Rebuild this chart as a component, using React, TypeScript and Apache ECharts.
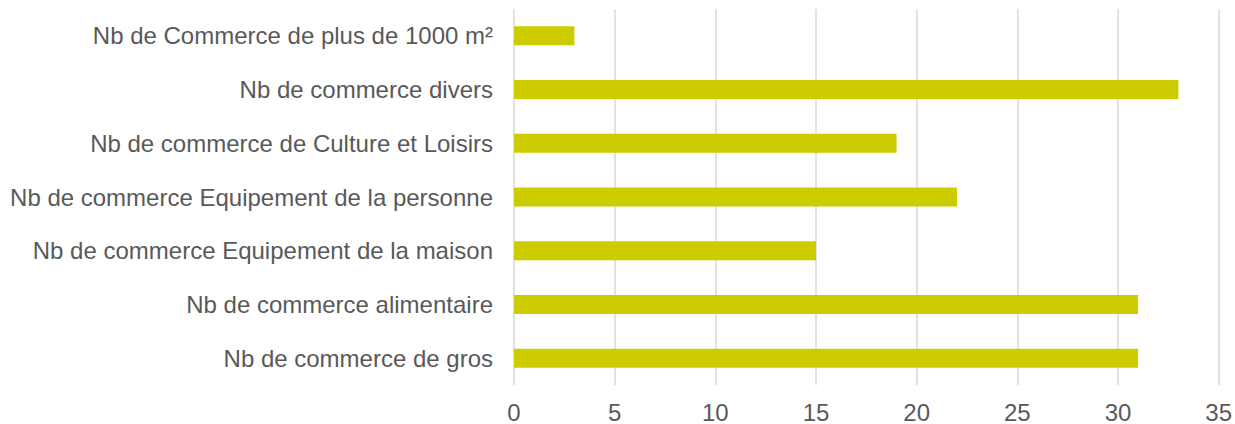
import React, { useEffect, useRef } from "react";
import * as echarts from "echarts";

const categories = [
  "Nb de Commerce de plus de 1000 m²",
  "Nb de commerce divers",
  "Nb de commerce de Culture et Loisirs",
  "Nb de commerce Equipement de la personne",
  "Nb de commerce Equipement de la maison",
  "Nb de commerce alimentaire",
  "Nb de commerce de gros",
];
const values = [3, 33, 19, 22, 15, 31, 31];
const xMin = 0;
const xMax = 35;
const xInterval = 5;

export default function App() {
  const ref = useRef<HTMLDivElement>(null);
  useEffect(() => {
    document.body.style.margin = "0";
    const chart = echarts.init(ref.current!, null, { renderer: "svg" });
    chart.setOption({
      animation: false,
      textStyle: { fontFamily: "Liberation Sans, Arial, sans-serif" },
      grid: { left: 514, right: 14, top: 9, bottom: 39, containLabel: false },
      xAxis: {
        type: "value",
        min: xMin,
        max: xMax,
        interval: xInterval,
        axisLine: { show: false },
        axisTick: { show: false },
        axisLabel: { color: "#595959", fontSize: 24, margin: 15 },
        splitLine: { show: true, lineStyle: { color: "#D9D9D9", width: 1.5 } },
      },
      yAxis: {
        type: "category",
        data: categories,
        inverse: true,
        axisLine: { show: false },
        axisTick: { show: false },
        axisLabel: { color: "#595959", fontSize: 24, margin: 21 },
      },
      series: [
        {
          type: "bar",
          data: values,
          barWidth: 19,
          itemStyle: { color: "#CCCC00" },
        },
      ],
    });
    return () => chart.dispose();
  }, []);
  return <div ref={ref} style={{ width: 1235, height: 424 }} />;
}
